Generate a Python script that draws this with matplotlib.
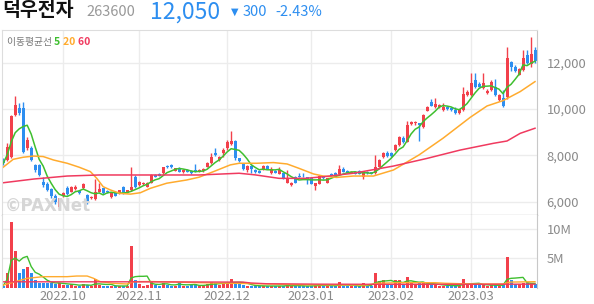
import numpy as np
import pandas as pd
import matplotlib
matplotlib.use("Agg")
import matplotlib.pyplot as plt

plt.rcParams["font.family"] = ["Noto Sans CJK KR", "DejaVu Sans"]

# daily candles, 2022-09-08 .. 2023-03-24 (one entry per trading day)
opens = [7800, 7800, 7950, 9740, 10030, 10030, 8300, 8300, 7590, 7590,
         6870, 6770, 6550, 6250, 5780, 6250, 6580, 6440, 6540, 6470,
         6580, 6300, 6150, 6100, 6440, 6580, 6480, 6190, 6360, 6370,
         6620, 6390, 6510, 7080, 6720, 6770, 6650, 6820, 7150, 7180,
         7230, 7540, 7580, 7340, 7440, 7300, 7380, 7340, 7350, 7300,
         7340, 7510, 7690, 8120, 7780, 8090, 8300, 8490, 8640, 7880,
         7620, 7370, 7560, 7370, 7340, 7370, 7560, 7230, 7340, 7200,
         7230, 6830, 6720, 7080, 7120, 7120, 7050, 7010, 6680, 6770,
         7080, 6830, 7200, 7260, 7200, 7400, 7340, 7260, 7300, 7330,
         7080, 7280, 7270, 7230, 7520, 7950, 8090, 8090, 8230, 8450,
         8740, 8590, 9350, 9380, 9380, 9210, 9930, 10290, 10100, 10100,
         9960, 10070, 10060, 9960, 9810, 9960, 10600, 10600, 11250, 11080,
         10890, 10680, 10820, 10930, 10390, 10460, 10530, 12010, 11820, 11470,
         11680, 12330, 11940, 12540]
highs = [7880, 8550, 9750, 10560, 10250, 10280, 8800, 8400, 7650, 7620,
         7080, 6850, 6600, 6350, 6180, 6440, 6680, 6680, 6720, 6500,
         6800, 6350, 6250, 6980, 6800, 6600, 6520, 6400, 6400, 6520,
         6680, 6520, 7480, 7150, 6900, 6850, 6850, 7180, 7200, 7230,
         7500, 7580, 7620, 7460, 7480, 7420, 7420, 7380, 7630, 7400,
         7440, 7720, 8120, 8300, 7990, 8300, 8650, 9050, 8680, 7900,
         7680, 7600, 7580, 7400, 7360, 7600, 7580, 7480, 7380, 7480,
         7260, 7370, 6850, 7100, 7240, 7240, 7060, 7030, 6810, 7130,
         7100, 7030, 7230, 7300, 7590, 7490, 7360, 7330, 7320, 7350,
         7320, 7310, 7300, 8020, 7850, 8160, 8200, 8150, 8480, 8850,
         8850, 9500, 9480, 9500, 9400, 9780, 10120, 10420, 10460, 10230,
         10240, 10120, 10100, 10100, 10020, 10930, 10800, 11540, 11540, 11150,
         11540, 10850, 11250, 11280, 10650, 10820, 12690, 12050, 11900, 11750,
         12540, 12540, 13120, 12690]
lows = [7590, 7750, 7900, 9700, 9750, 8100, 8230, 7750, 7300, 7100,
        6650, 6450, 6150, 5900, 5700, 6200, 6290, 6400, 6500, 6330,
        6550, 5900, 6100, 6080, 6400, 6330, 6380, 6150, 6250, 6340,
        6340, 6370, 6480, 6600, 6700, 6740, 6620, 6800, 7050, 7090,
        7200, 7460, 7460, 7320, 7280, 7250, 7280, 7200, 7280, 7280,
        7300, 7480, 7650, 7990, 7750, 7950, 8250, 8450, 7800, 7700,
        7380, 7300, 7250, 7250, 7220, 7350, 7400, 7200, 7220, 7180,
        6980, 6800, 6680, 6800, 7050, 7060, 6770, 6750, 6510, 6750,
        7000, 6800, 7100, 7150, 7180, 7280, 7230, 7240, 7180, 7180,
        7000, 7200, 7180, 7200, 7480, 7900, 7950, 7950, 8200, 8420,
        8550, 8560, 9300, 9330, 8640, 9180, 9900, 10120, 10050, 10050,
        9900, 9950, 9900, 9780, 9780, 9900, 10550, 10550, 10900, 10930,
        10850, 10650, 10780, 10580, 10350, 10100, 10450, 11650, 11600, 11450,
        11650, 11950, 11800, 12000]
closes = [7660, 8380, 9700, 10170, 9810, 8160, 8660, 7800, 7370, 7150,
          6720, 6500, 6250, 6000, 6160, 6390, 6340, 6650, 6620, 6360,
          6770, 5970, 6220, 6400, 6540, 6360, 6400, 6360, 6270, 6500,
          6360, 6500, 6620, 6650, 6860, 6820, 6820, 7150, 7080, 7110,
          7480, 7480, 7480, 7440, 7300, 7360, 7300, 7230, 7300, 7370,
          7420, 7690, 7950, 8020, 7950, 8230, 8590, 8640, 7870, 7760,
          7410, 7560, 7410, 7280, 7250, 7540, 7420, 7400, 7260, 7370,
          7010, 6970, 6820, 6820, 7080, 7090, 6970, 6770, 6800, 7110,
          7020, 7010, 7110, 7160, 7400, 7300, 7260, 7300, 7200, 7200,
          7300, 7230, 7200, 7520, 7800, 8090, 7970, 7980, 8450, 8810,
          8590, 9310, 9450, 9450, 9310, 9740, 10100, 10140, 10210, 10190,
          10100, 9990, 9960, 9810, 9990, 10650, 10750, 11110, 10960, 10960,
          11110, 10780, 11180, 10600, 10600, 10130, 12180, 11800, 11650, 11710,
          12180, 12000, 12350, 12050]
# volume, millions of shares
volumes = [0.4, 2.5, 11.1, 6.3, 2.5, 3.3, 3.6, 2.5, 1.4, 0.9,
           0.9, 0.9, 0.9, 0.7, 0.9, 0.5, 0.5, 0.6, 0.4, 0.4,
           0.7, 0.5, 0.3, 1.5, 0.5, 0.4, 0.3, 0.4, 0.3, 0.3,
           0.4, 0.3, 7.2, 1.4, 0.6, 0.4, 0.5, 1.2, 0.5, 0.4,
           0.9, 0.5, 0.4, 0.4, 1.1, 0.4, 0.4, 0.5, 0.6, 0.3,
           0.4, 0.7, 1.1, 0.9, 0.5, 0.8, 0.9, 1.5, 1.1, 0.6,
           0.5, 0.4, 0.4, 0.3, 0.3, 0.4, 0.3, 0.4, 0.3, 0.3,
           0.4, 0.6, 0.3, 0.4, 0.3, 0.3, 0.4, 0.4, 0.5, 0.6,
           0.3, 0.4, 0.3, 0.3, 1.1, 0.4, 0.3, 0.3, 0.3, 0.3,
           0.9, 0.3, 0.3, 2.6, 1.2, 1.4, 0.6, 0.6, 1.4, 1.3,
           0.7, 1.9, 0.8, 0.7, 0.8, 0.9, 0.7, 0.6, 0.5, 0.4,
           0.4, 0.4, 0.4, 0.4, 0.3, 1.6, 0.6, 0.7, 0.6, 0.5,
           0.5, 0.4, 0.5, 0.5, 0.4, 0.6, 5.3, 1.4, 0.7, 0.7,
           0.9, 0.8, 0.9, 0.6]

# 20/60-day averages (they reach back before the window)
ma20_x = [0, 2.5, 5, 7.6, 10, 12.6, 16, 19, 21.8, 23.4, 25, 26.8, 29.3, 31.8,
          34.3, 36.8, 40.9, 45.9, 49, 52.6, 56.8, 59, 63.4, 67.6, 71, 74,
          77.6, 80, 83.4, 87.6, 92.6, 97.6, 104, 110, 116.8, 121, 125, 129.3, 133]
ma20_y = [7490, 7830, 7920, 7970, 7950, 7800, 7660, 7490, 7300, 7010, 6650,
          6510, 6360, 6330, 6390, 6580, 6800, 6940, 7060, 7300, 7590, 7660,
          7660, 7690, 7630, 7440, 7200, 7110, 7050, 7110, 7110, 7370, 8020,
          8740, 9640, 10130, 10360, 10750, 11180]
ma60_x = [0, 7.6, 16, 24, 49, 55, 59, 63, 69, 75.6, 80, 87.6, 97.6, 106,
          114.3, 122.6, 126, 129.3, 133]
ma60_y = [6820, 6980, 7110, 7155, 7155, 7200, 7230, 7160, 7010, 7010, 7080,
          7230, 7540, 7870, 8230, 8520, 8620, 8950, 9170]
vma20_x = [0, 6, 10, 16, 18.4, 21, 22.6, 24.3, 27.6, 31, 32.6, 36.8, 49,
           57.6, 66, 74, 91, 93.5, 99, 108, 110.6, 116.6, 125, 126.8, 133]
vma20_y = [0.5, 1.64, 1.92, 1.92, 2.03, 2.03, 1.64, 1.07, 0.79, 0.68, 1.07,
           1.1, 0.9, 0.8, 0.68, 0.56, 0.51, 0.8, 0.9, 0.9, 0.8, 0.68, 0.68,
           1.0, 1.07]
vma60_x = [0, 30, 60, 62, 66, 80, 100, 133]
vma60_y = [1.05, 1.05, 1.0, 0.85, 0.72, 0.65, 0.62, 0.65]

month_idx = [15, 34, 56, 77, 97, 117]
month_labels = ["2022.10", "2022.11", "2022.12", "2023.01", "2023.02", "2023.03"]
price_ticks = [6000, 8000, 10000, 12000]
vol_ticks = [5, 10]

RED = "#f2404b"
BLUE = "#2d8ef0"
GREEN = "#3fbf2f"
ORANGE = "#ffab2e"
PINK = "#f03a5f"
GRID = "#ececec"
TXT = "#8a8a8a"

o = np.array(opens)
c = np.array(closes)
x = np.arange(len(c))
up = c >= o
col = np.where(up, RED, BLUE)
ma5 = pd.Series(closes).rolling(5, min_periods=1).mean()
vma5 = pd.Series(volumes).rolling(5, min_periods=1).mean()

fig = plt.figure(figsize=(5.94, 3.04), dpi=100)
W, H = 594, 304
ax = fig.add_axes([2 / W, 1 - 215 / H, 535 / W, 185 / H])
axv = fig.add_axes([2 / W, 1 - 288 / H, 535 / W, 73 / H], sharex=ax)

# price panel
ax.vlines(x, lows, highs, colors=col, lw=1)
body = np.maximum(np.abs(c - o), 25)
ax.bar(x, body, bottom=np.minimum(o, c), width=0.75, color=col, linewidth=0)
ax.plot(x, ma5, color=GREEN, lw=1.1)
ax.plot(ma20_x, ma20_y, color=ORANGE, lw=1.1)
ax.plot(ma60_x, ma60_y, color=PINK, lw=1.1)
ax.set_xlim(-0.3, 133.5)
ax.set_ylim(5430, 13405)
ax.set_yticks(price_ticks)
ax.set_yticklabels([f"{v:,}" for v in price_ticks])
ax.yaxis.tick_right()
ax.set_xticks(month_idx)
ax.tick_params(axis="x", labelbottom=False, length=0)
ax.tick_params(axis="y", length=0, pad=7, labelsize=9.3, labelcolor=TXT)
ax.grid(color=GRID, lw=1)
ax.set_axisbelow(True)
for s in ["top", "left"]:
    ax.spines[s].set_color("#dddddd")
ax.spines["right"].set_color("#c8c8c8")
ax.spines["bottom"].set_color("#444444")

# volume panel
axv.bar(x, volumes, width=0.75, color=col, linewidth=0)
axv.plot(x, vma5, color=GREEN, lw=1.0)
axv.plot(vma20_x, vma20_y, color=ORANGE, lw=1.0)
axv.plot(vma60_x, vma60_y, color=PINK, lw=1.0)
axv.set_ylim(0, 12.37)
axv.set_yticks(vol_ticks)
axv.set_yticklabels([f"{v}M" for v in vol_ticks])
axv.yaxis.tick_right()
axv.set_xticks(month_idx)
axv.set_xticklabels(month_labels)
axv.tick_params(axis="x", length=0, pad=1.5, labelsize=9.3, labelcolor=TXT)
axv.tick_params(axis="y", length=0, pad=7, labelsize=9.3, labelcolor=TXT)
axv.grid(color=GRID, lw=1)
axv.set_axisbelow(True)
axv.spines["top"].set_visible(False)
axv.spines["bottom"].set_visible(False)
axv.spines["left"].set_color("#dddddd")
axv.spines["right"].set_color("#c8c8c8")

# header
fig.text(2 / W, 1 - 11 / H, "덕우전자", fontsize=14, fontweight="bold", va="center", color="#111111")
fig.text(86 / W, 1 - 12 / H, "263600", fontsize=10.5, va="center", color="#999999")
fig.text(150 / W, 1 - 12 / H, "12,050", fontsize=16.5, va="center", color=BLUE)
fig.text(231 / W, 1 - 12 / H, "▼", fontsize=7, va="center", color=BLUE, family=["DejaVu Sans"])
fig.text(243 / W, 1 - 12 / H, "300", fontsize=10.5, va="center", color=BLUE)
fig.text(275 / W, 1 - 12 / H, "-2.43%", fontsize=10.5, va="center", color=BLUE)

# moving average legend
lx, ly = 7 / W, 1 - 42 / H
t = fig.text(lx, ly, "이동평균선 ", fontsize=7, va="center", color="#777777")
fig.canvas.draw()
r = fig.canvas.get_renderer()
cx = t.get_window_extent(r).x1
for label, cc in [("5", GREEN), ("20", ORANGE), ("60", PINK)]:
    tt = fig.text(cx / W, ly, label + " ", fontsize=7.5, va="center", color=cc, fontweight="bold")
    cx = tt.get_window_extent(r).x1

# watermark
fig.text(5 / W, 1 - 206 / H, "©PAXNet", fontsize=12, fontweight="bold", va="center",
         color="#d6d6d6", family=["DejaVu Sans"])

fig.savefig("out.png", dpi=100)
